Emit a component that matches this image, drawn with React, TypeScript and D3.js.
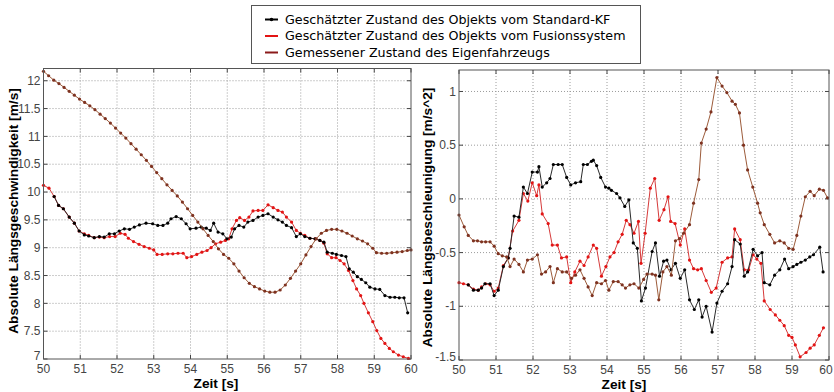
import React from "react";
import * as d3 from "d3";

type P = [number, number];

const timeTicks = [50, 51, 52, 53, 54, 55, 56, 57, 58, 59, 60];
const speedTicks = [7, 7.5, 8, 8.5, 9, 9.5, 10, 10.5, 11, 11.5, 12];
const accTicks = [-1.5, -1, -0.5, 0, 0.5, 1];

const legendLabels = [
  "Geschätzter Zustand des Objekts vom Standard-KF",
  "Geschätzter Zustand des Objekts vom Fusionssystem",
  "Gemessener Zustand des Eigenfahrzeugs",
];
const speedLabel = "Absolute Längsgeschwindigkeit [m/s]";
const accLabel = "Absolute Längsbeschleunigung [m/s^2]";
const timeLabel = "Zeit [s]";

// Left panel: absolute longitudinal speed
const speedKF: P[] = [
  [50.29, 9.92], [50.41, 9.76], [50.54, 9.7], [50.7, 9.55], [50.84, 9.44], [50.97, 9.3], [51.11, 9.23],
  [51.23, 9.21], [51.38, 9.18], [51.52, 9.2], [51.65, 9.19], [51.79, 9.25], [51.93, 9.25], [52.06, 9.3],
  [52.2, 9.34], [52.34, 9.33], [52.47, 9.37], [52.61, 9.41], [52.79, 9.44], [52.97, 9.43], [53.11, 9.4],
  [53.25, 9.4], [53.38, 9.44], [53.47, 9.52], [53.61, 9.56], [53.75, 9.52], [53.88, 9.43], [53.99, 9.34],
  [54.15, 9.35], [54.29, 9.37], [54.43, 9.35], [54.54, 9.31], [54.63, 9.44], [54.75, 9.28], [54.88, 9.25],
  [54.99, 9.16], [55.11, 9.19], [55.2, 9.34], [55.32, 9.4], [55.45, 9.37], [55.56, 9.46], [55.7, 9.49],
  [55.84, 9.55], [55.97, 9.58], [56.11, 9.61], [56.25, 9.55], [56.38, 9.5], [56.5, 9.46], [56.61, 9.4],
  [56.75, 9.36], [56.88, 9.2], [56.99, 9.25], [57.11, 9.2], [57.25, 9.17], [57.39, 9.16], [57.52, 9.13],
  [57.63, 9.1], [57.72, 8.92], [57.86, 8.9], [57.97, 8.88], [58.11, 8.86], [58.23, 8.84], [58.32, 8.62],
  [58.43, 8.56], [58.54, 8.48], [58.65, 8.43], [58.77, 8.37], [58.88, 8.29], [59.02, 8.26], [59.15, 8.25],
  [59.29, 8.14], [59.43, 8.11], [59.56, 8.11], [59.68, 8.1], [59.81, 8.1], [59.91, 7.83],
];

const speedFusion: P[] = [
  [50.0, 10.12], [50.15, 10.07], [50.29, 9.92], [50.41, 9.76], [50.54, 9.7], [50.7, 9.55], [50.84, 9.44],
  [50.97, 9.3], [51.11, 9.25], [51.23, 9.22], [51.38, 9.18], [51.52, 9.19], [51.65, 9.18], [51.8, 9.2],
  [51.95, 9.2], [52.09, 9.26], [52.22, 9.24], [52.31, 9.17], [52.45, 9.11], [52.6, 9.06], [52.74, 9.02],
  [52.88, 8.99], [53.0, 8.96], [53.09, 8.88], [53.23, 8.88], [53.38, 8.89], [53.52, 8.89], [53.66, 8.9],
  [53.8, 8.9], [53.9, 8.82], [54.03, 8.84], [54.17, 8.88], [54.31, 8.92], [54.45, 8.95], [54.56, 9.0],
  [54.68, 9.07], [54.82, 9.1], [54.95, 9.13], [55.04, 9.16], [55.13, 9.34], [55.25, 9.49], [55.34, 9.54],
  [55.47, 9.49], [55.59, 9.55], [55.7, 9.66], [55.84, 9.67], [55.97, 9.67], [56.11, 9.77], [56.25, 9.72],
  [56.38, 9.67], [56.5, 9.64], [56.61, 9.55], [56.75, 9.46], [56.88, 9.31], [56.99, 9.26], [57.11, 9.22],
  [57.25, 9.17], [57.39, 9.16], [57.52, 9.13], [57.63, 9.08], [57.72, 8.89], [57.84, 8.82], [57.96, 8.82],
  [58.07, 8.77], [58.18, 8.71], [58.3, 8.59], [58.42, 8.41], [58.52, 8.26], [58.63, 8.14], [58.72, 8.0],
  [58.84, 7.83], [58.96, 7.67], [59.07, 7.51], [59.18, 7.37], [59.29, 7.28], [59.41, 7.19], [59.52, 7.13],
  [59.66, 7.07], [59.79, 7.04], [59.93, 7.01],
];

const speedEgo: P[] = [
  [50.0, 12.17], [50.14, 12.09], [50.28, 12.01], [50.42, 11.95], [50.56, 11.88], [50.7, 11.81], [50.84, 11.74],
  [50.98, 11.67], [51.12, 11.61], [51.26, 11.55], [51.4, 11.48], [51.54, 11.4], [51.68, 11.32], [51.82, 11.24],
  [51.96, 11.15], [52.1, 11.06], [52.24, 10.97], [52.38, 10.87], [52.52, 10.77], [52.66, 10.67], [52.8, 10.57],
  [52.94, 10.46], [53.08, 10.35], [53.22, 10.24], [53.36, 10.13], [53.5, 10.03], [53.64, 9.93], [53.78, 9.82],
  [53.92, 9.7], [54.06, 9.58], [54.2, 9.46], [54.34, 9.34], [54.48, 9.22], [54.62, 9.11], [54.76, 8.98],
  [54.9, 8.88], [55.04, 8.81], [55.18, 8.71], [55.32, 8.58], [55.46, 8.46], [55.6, 8.36], [55.74, 8.3],
  [55.88, 8.26], [56.02, 8.22], [56.16, 8.2], [56.3, 8.2], [56.44, 8.24], [56.58, 8.33], [56.72, 8.45],
  [56.86, 8.58], [57.0, 8.71], [57.14, 8.87], [57.28, 9.02], [57.42, 9.16], [57.56, 9.26], [57.7, 9.31],
  [57.84, 9.33], [57.98, 9.33], [58.12, 9.3], [58.26, 9.26], [58.4, 9.21], [58.54, 9.16], [58.68, 9.12],
  [58.82, 9.07], [58.96, 8.99], [59.06, 8.91], [59.2, 8.9], [59.34, 8.9], [59.48, 8.91], [59.62, 8.92],
  [59.76, 8.93], [59.9, 8.95], [60.0, 8.96],
];

// Right panel: absolute longitudinal acceleration
const accKF: P[] = [
  [50.25, -0.8], [50.39, -0.85], [50.52, -0.85], [50.61, -0.83], [50.7, -0.79], [50.84, -0.79], [50.95, -0.9],
  [51.06, -0.85], [51.2, -0.63], [51.33, -0.55], [51.38, -0.46], [51.49, -0.16], [51.62, -0.17], [51.74, 0.11],
  [51.85, 0.05], [51.98, 0.25], [52.12, 0.25], [52.16, 0.3], [52.25, 0.11], [52.37, 0.15], [52.46, 0.19],
  [52.55, 0.32], [52.68, 0.32], [52.79, 0.32], [52.91, 0.2], [53.02, 0.13], [53.15, 0.15], [53.29, 0.16],
  [53.36, 0.32], [53.47, 0.32], [53.58, 0.35], [53.63, 0.36], [53.72, 0.31], [53.83, 0.2], [53.96, 0.11],
  [54.05, 0.1], [54.12, 0.08], [54.26, 0.05], [54.35, 0.01], [54.48, -0.07], [54.59, -0.01], [54.71, -0.41],
  [54.82, -0.46], [54.93, -0.95], [55.04, -0.83], [55.22, -0.49], [55.31, -0.41], [55.42, -0.72], [55.53, -0.58],
  [55.62, -0.57], [55.73, -0.66], [55.85, -0.6], [55.98, -0.74], [56.1, -0.66], [56.23, -0.94], [56.36, -1.03],
  [56.48, -0.94], [56.57, -1.1], [56.68, -1.0], [56.84, -1.24], [56.97, -0.97], [57.11, -0.86], [57.26, -0.79],
  [57.38, -0.63], [57.45, -0.38], [57.6, -0.42], [57.71, -0.72], [57.8, -0.68], [57.95, -0.47], [58.07, -0.53],
  [58.19, -0.5], [58.25, -0.78], [58.4, -0.8], [58.53, -0.71], [58.67, -0.66], [58.8, -0.56], [58.91, -0.65],
  [59.03, -0.63], [59.13, -0.61], [59.24, -0.59], [59.36, -0.57], [59.48, -0.54], [59.58, -0.52], [59.75, -0.45],
  [59.84, -0.68],
];

const accFusion: P[] = [
  [50.0, -0.78], [50.12, -0.79], [50.25, -0.8], [50.39, -0.84], [50.52, -0.85], [50.61, -0.82], [50.72, -0.79],
  [50.84, -0.8], [50.95, -0.86], [51.06, -0.83], [51.2, -0.62], [51.33, -0.55], [51.45, -0.3], [51.62, -0.2],
  [51.74, 0.05], [51.86, -0.02], [51.98, 0.15], [52.1, 0.03], [52.16, 0.13], [52.25, -0.14], [52.41, -0.23],
  [52.52, -0.43], [52.66, -0.43], [52.77, -0.55], [52.91, -0.54], [53.02, -0.78], [53.13, -0.68], [53.27, -0.58],
  [53.38, -0.62], [53.49, -0.54], [53.63, -0.43], [53.72, -0.46], [53.85, -0.72], [53.97, -0.63], [54.08, -0.54],
  [54.19, -0.5], [54.3, -0.4], [54.41, -0.33], [54.52, -0.2], [54.62, -0.24], [54.73, -0.32], [54.85, -0.21],
  [54.92, -0.6], [55.03, -0.32], [55.17, 0.1], [55.29, 0.19], [55.41, -0.2], [55.54, -0.1], [55.65, 0.02],
  [55.72, -0.21], [55.84, -0.23], [55.98, -0.43], [56.1, -0.28], [56.23, -0.57], [56.34, -0.65], [56.45, -0.66],
  [56.55, -0.65], [56.68, -0.76], [56.82, -0.87], [56.95, -0.83], [57.11, -0.59], [57.26, -0.55], [57.38, -0.54],
  [57.45, -0.28], [57.6, -0.38], [57.71, -0.66], [57.83, -0.66], [57.95, -0.52], [58.05, -0.56], [58.16, -0.6],
  [58.25, -0.95], [58.41, -1.03], [58.55, -1.08], [58.67, -1.13], [58.79, -1.18], [58.91, -1.27], [59.0, -1.29],
  [59.09, -1.36], [59.22, -1.47], [59.38, -1.43], [59.49, -1.39], [59.6, -1.36], [59.74, -1.27], [59.85, -1.2],
];

const accEgo: P[] = [
  [50.0, -0.15], [50.14, -0.26], [50.25, -0.34], [50.39, -0.39], [50.5, -0.39], [50.61, -0.4], [50.72, -0.4],
  [50.84, -0.4], [50.95, -0.44], [51.06, -0.51], [51.17, -0.53], [51.29, -0.54], [51.38, -0.63], [51.49, -0.56],
  [51.62, -0.61], [51.74, -0.68], [51.85, -0.57], [51.98, -0.56], [52.12, -0.52], [52.23, -0.7], [52.34, -0.68],
  [52.46, -0.63], [52.55, -0.78], [52.66, -0.65], [52.79, -0.68], [52.91, -0.68], [53.04, -0.74], [53.15, -0.71],
  [53.27, -0.66], [53.38, -0.74], [53.49, -0.82], [53.6, -0.9], [53.72, -0.78], [53.85, -0.79], [53.96, -0.76],
  [54.05, -0.85], [54.17, -0.77], [54.3, -0.77], [54.41, -0.8], [54.5, -0.83], [54.62, -0.8], [54.73, -0.79],
  [54.86, -0.83], [54.99, -0.75], [55.08, -0.7], [55.22, -0.7], [55.31, -0.71], [55.4, -0.94], [55.51, -0.68],
  [55.62, -0.63], [55.74, -0.71], [55.85, -0.39], [55.96, -0.37], [56.07, -0.32], [56.23, -0.24], [56.34, -0.04],
  [56.48, 0.18], [56.55, 0.52], [56.68, 0.65], [56.81, 0.81], [56.97, 1.13], [57.11, 1.05], [57.24, 0.99],
  [57.38, 0.91], [57.47, 0.88], [57.58, 0.8], [57.69, 0.5], [57.8, 0.27], [57.94, 0.11], [58.07, -0.04],
  [58.14, -0.13], [58.25, -0.24], [58.4, -0.33], [58.53, -0.41], [58.67, -0.39], [58.79, -0.41], [58.91, -0.46],
  [59.03, -0.47], [59.13, -0.34], [59.24, -0.16], [59.36, 0.02], [59.49, 0.07], [59.6, 0.03], [59.74, 0.09],
  [59.85, 0.08], [59.96, 0.01],
];

const STYLE = {
  kf: { line: "#2a2a2a", dot: "#000000" },
  fusion: { line: "#d63a3a", dot: "#e31414" },
  ego: { line: "#9c5b3a", dot: "#7e3220" },
};

const FONT = "'Liberation Sans', Arial, Helvetica, sans-serif";
const W = 834;

type Series = { data: P[]; line: string; dot: string };

function Panel(props: {
  left: number; right: number; top: number; bottom: number;
  yDomain: [number, number]; yTicks: number[]; series: Series[];
  yLabel: string; yLabelX: number; yLabelY: number; xLabelX: number;
}) {
  const { left, right, top, bottom, yDomain, yTicks, series, yLabel, yLabelX, yLabelY, xLabelX } = props;
  const x = d3.scaleLinear().domain([50, 60]).range([left, right]);
  const y = d3.scaleLinear().domain(yDomain).range([bottom, top]);
  const line = d3.line<P>().x((d) => x(d[0])).y((d) => y(d[1]));
  const tl = 4;
  const yMin = d3.min(yTicks) as number;
  return (
    <g>
      {timeTicks.slice(1, -1).map((t) => (
        <line key={"gx" + t} x1={x(t)} x2={x(t)} y1={top} y2={bottom} stroke="#9c9c9c" strokeWidth={1} strokeDasharray="1 2" />
      ))}
      {yTicks.map((v) => (
        y(v) > top + 1 && y(v) < bottom - 1 ? (
          <line key={"gy" + v} x1={left} x2={right} y1={y(v)} y2={y(v)} stroke="#9c9c9c" strokeWidth={1} strokeDasharray="1 2" />
        ) : null
      ))}
      {timeTicks.map((t) => (
        <g key={"tx" + t}>
          <line x1={x(t)} x2={x(t)} y1={bottom} y2={bottom - tl} stroke="#444" />
          <line x1={x(t)} x2={x(t)} y1={top} y2={top + tl} stroke="#444" />
          <text x={Math.min(x(t), W - 8)} y={bottom + 14} textAnchor="middle" fontFamily={FONT} fontSize={12} fill="#444">{t}</text>
        </g>
      ))}
      {yTicks.map((v) => (
        <g key={"ty" + v}>
          <line x1={left} x2={left + tl} y1={y(v)} y2={y(v)} stroke="#444" />
          <line x1={right} x2={right - tl} y1={y(v)} y2={y(v)} stroke="#444" />
          <text x={left - 3} y={y(v) - (v === yMin ? 3 : 0)} dy="0.35em" textAnchor="end" fontFamily={FONT} fontSize={12} fill="#444">{String(v)}</text>
        </g>
      ))}
      {series.map((s, i) => (
        <g key={"s" + i}>
          <path d={line(s.data) || ""} fill="none" stroke={s.line} strokeWidth={1} />
          {s.data.map((d, j) => (
            <circle key={j} cx={x(d[0])} cy={y(d[1])} r={1.6} fill={s.dot} />
          ))}
        </g>
      ))}
      <rect x={left} y={top} width={right - left} height={bottom - top} fill="none" stroke="#555" strokeWidth={1} />
      <text x={xLabelX} y={bottom + 29} textAnchor="middle" fontFamily={FONT} fontWeight="bold" fontSize={13.7} fill="#000">{timeLabel}</text>
      <text transform={`translate(${yLabelX},${yLabelY}) rotate(-90)`} textAnchor="middle" dy="0.35em" fontFamily={FONT} fontWeight="bold" fontSize={13.7} fill="#000">{yLabel}</text>
    </g>
  );
}

export default function App() {
  const legendColors = ["#000000", "#e31414", "#8b1a1a"];
  const legendY = [19.5, 36, 52.5];
  return (
    <svg width={W} height={392} style={{ position: "absolute", left: 0, top: 0, background: "#fff" }}>
      <rect x={0} y={0} width={W} height={392} fill="#fff" />
      <Panel
        left={43.5} right={411} top={68.5} bottom={359}
        yDomain={[7, 12.22]} yTicks={speedTicks}
        series={[
          { data: speedFusion, ...STYLE.fusion },
          { data: speedKF, ...STYLE.kf },
          { data: speedEgo, ...STYLE.ego },
        ]}
        yLabel={speedLabel} yLabelX={13} yLabelY={211} xLabelX={216}
      />
      <Panel
        left={459} right={829} top={70} bottom={360}
        yDomain={[-1.5, 1.2]} yTicks={accTicks}
        series={[
          { data: accFusion, ...STYLE.fusion },
          { data: accKF, ...STYLE.kf },
          { data: accEgo, ...STYLE.ego },
        ]}
        yLabel={accLabel} yLabelX={427} yLabelY={217.5} xLabelX={624}
      />
      <rect x={251.5} y={5.5} width={389} height={58} fill="#fff" stroke="#555" strokeWidth={1} />
      {legendLabels.map((lab, i) => (
        <g key={lab}>
          <line x1={265} x2={278} y1={legendY[i]} y2={legendY[i]} stroke={legendColors[i]} strokeWidth={2} />
          {i === 0 ? <circle cx={271.5} cy={legendY[i]} r={1.8} fill="#000" /> : null}
          <text x={285} y={legendY[i]} dy="0.35em" fontFamily="'DejaVu Sans', Verdana, sans-serif" fontSize={12.7} fill="#000">{lab}</text>
        </g>
      ))}
    </svg>
  );
}
